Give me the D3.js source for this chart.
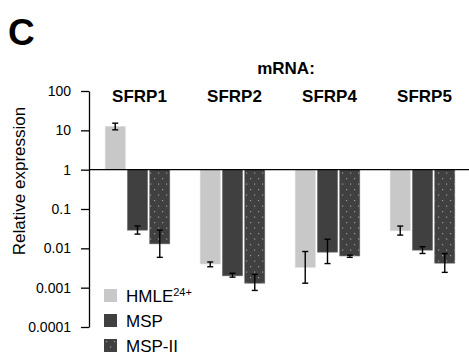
<!DOCTYPE html>
<html>
<head>
<meta charset="utf-8">
<script src="https://cdn.jsdelivr.net/npm/d3@7"></script>
<style>
  html, body { margin: 0; padding: 0; background: #fff; }
  svg { display: block; font-family: "Liberation Sans", Arial, sans-serif; }
</style>
</head>
<body>
<div id="chart"></div>
<script>
// genes on the x axis
const genes = ['SFRP1', 'SFRP2', 'SFRP4', 'SFRP5'];
const seriesNames = ['HMLE', 'MSP', 'MSP-II'];

// relative expression (mean) per gene
const hmle = [12.6, 0.0040, 0.0033, 0.028];
const msp = [0.029, 0.0020, 0.0080, 0.0090];
const mspII = [0.013, 0.0013, 0.0064, 0.0042];

// error bar ends (low / high)
const hmleLow = [10.3, 0.0034, 0.0013, 0.0217];
const hmleHigh = [15.2, 0.0045, 0.0083, 0.0368];
const mspLow = [0.023, 0.00185, 0.0041, 0.0074];
const mspHigh = [0.037, 0.00233, 0.0170, 0.0110];
const mspIILow = [0.0059, 0.00085, 0.0059, 0.00245];
const mspIIHigh = [0.029, 0.00218, 0.0067, 0.0074];

const yTicks = [100, 10, 1, 0.1, 0.01, 0.001, 0.0001];
const yTickLabels = ['100', '10', '1', '0.1', '0.01', '0.001', '0.0001'];

const means = [hmle, msp, mspII];
const lows = [hmleLow, mspLow, mspIILow];
const highs = [hmleHigh, mspHigh, mspIIHigh];

const data = [];
genes.forEach((g, gi) => {
    seriesNames.forEach((s, si) => {
        data.push({ gene: g, series: s, value: means[si][gi], lo: lows[si][gi], hi: highs[si][gi] });
    });
});

const W = 469, H = 356;
const svg = d3.select('#chart').append('svg')
    .attr('width', W)
    .attr('height', H);

// dotted fill for MSP-II
const defs = svg.append('defs');
const pat = defs.append('pattern')
    .attr('id', 'dots')
    .attr('patternUnits', 'userSpaceOnUse')
    .attr('width', 8)
    .attr('height', 11);
pat.append('rect').attr('width', 8).attr('height', 11).attr('fill', '#404040');
pat.append('rect').attr('x', 2).attr('y', 2).attr('width', 1.2).attr('height', 1.2).attr('fill', '#9a9a9a');
pat.append('rect').attr('x', 6).attr('y', 7.5).attr('width', 1.2).attr('height', 1.2).attr('fill', '#9a9a9a');

const fills = { 'HMLE': '#c8c8c8', 'MSP': '#404040', 'MSP-II': 'url(#dots)' };

const y = d3.scaleLog()
    .domain([0.0001, 100])
    .range([327, 91]);

const x0 = d3.scaleBand()
    .domain(genes)
    .range([90, 470])
    .paddingInner(0.32)
    .paddingOuter(0.16);

const x1 = d3.scaleBand()
    .domain(seriesNames)
    .range([0, x0.bandwidth()])
    .paddingInner(0.1);

// bars from the 1 line
svg.append('g')
    .selectAll('rect')
    .data(data)
    .join('rect')
    .attr('x', d => x0(d.gene) + x1(d.series))
    .attr('width', x1.bandwidth())
    .attr('y', d => Math.min(y(d.value), y(1)))
    .attr('height', d => Math.abs(y(d.value) - y(1)))
    .attr('fill', d => fills[d.series])
    .attr('stroke', d => d.series === 'HMLE' ? '#d8d8d8' : '#6a6a6a')
    .attr('stroke-width', 0.6);

// error bars
const eb = svg.append('g')
    .attr('stroke', '#000')
    .attr('stroke-width', 1.4)
    .selectAll('g')
    .data(data)
    .join('g')
    .attr('transform', d => `translate(${x0(d.gene) + x1(d.series) + x1.bandwidth() / 2},0)`);
eb.append('line').attr('y1', d => y(d.lo)).attr('y2', d => y(d.hi));
eb.append('line').attr('x1', -3).attr('x2', 3).attr('y1', d => y(d.lo)).attr('y2', d => y(d.lo));
eb.append('line').attr('x1', -3).attr('x2', 3).attr('y1', d => y(d.hi)).attr('y2', d => y(d.hi));

// y axis
const yAxis = svg.append('g')
    .attr('transform', 'translate(89,0)')
    .call(d3.axisLeft(y)
        .tickValues(yTicks)
        .tickFormat((d, i) => yTickLabels[i])
        .tickSize(8)
        .tickSizeOuter(0)
        .tickPadding(10));
yAxis.select('.domain').attr('stroke', '#000').attr('stroke-width', 1.3);
yAxis.selectAll('.tick line').attr('stroke', '#000').attr('stroke-width', 1.3);
yAxis.selectAll('.tick text')
    .attr('font-family', '"Liberation Sans", Arial, sans-serif')
    .attr('font-size', 14)
    .attr('fill', '#000');

// baseline at 1
svg.append('line')
    .attr('x1', 89).attr('x2', 469)
    .attr('y1', y(1)).attr('y2', y(1))
    .attr('stroke', '#000')
    .attr('stroke-width', 1.3);

// y label
svg.append('text')
    .attr('transform', `translate(24.5,${(y(100) + y(0.0001)) / 2 - 28}) rotate(-90)`)
    .attr('text-anchor', 'middle')
    .attr('font-size', 17)
    .text('Relative expression');

// gene labels
svg.append('g')
    .selectAll('text')
    .data(genes)
    .join('text')
    .attr('x', d => x0(d) + x0.bandwidth() / 2 + 2)
    .attr('y', 102)
    .attr('text-anchor', 'middle')
    .attr('font-size', 17)
    .attr('font-weight', 'bold')
    .text(d => d);

svg.append('text')
    .attr('x', 286)
    .attr('y', 74)
    .attr('text-anchor', 'middle')
    .attr('font-size', 17)
    .attr('font-weight', 'bold')
    .text('mRNA:');

// panel letter
svg.append('text')
    .attr('x', 8)
    .attr('y', 45)
    .attr('font-size', 37)
    .attr('font-weight', 'bold')
    .text('C');

// legend
const legend = svg.append('g')
    .selectAll('g')
    .data(seriesNames)
    .join('g')
    .attr('transform', (d, i) => `translate(104,${289 + i * 25})`);
legend.append('rect')
    .attr('width', 13)
    .attr('height', 13)
    .attr('fill', d => fills[d]);
const lt = legend.append('text')
    .attr('x', 22)
    .attr('y', 13)
    .attr('font-size', 17);
lt.append('tspan').text(d => d);
lt.filter(d => d === 'HMLE').append('tspan')
    .attr('dy', -6)
    .attr('font-size', 11)
    .text('24+');
</script>
</body>
</html>
